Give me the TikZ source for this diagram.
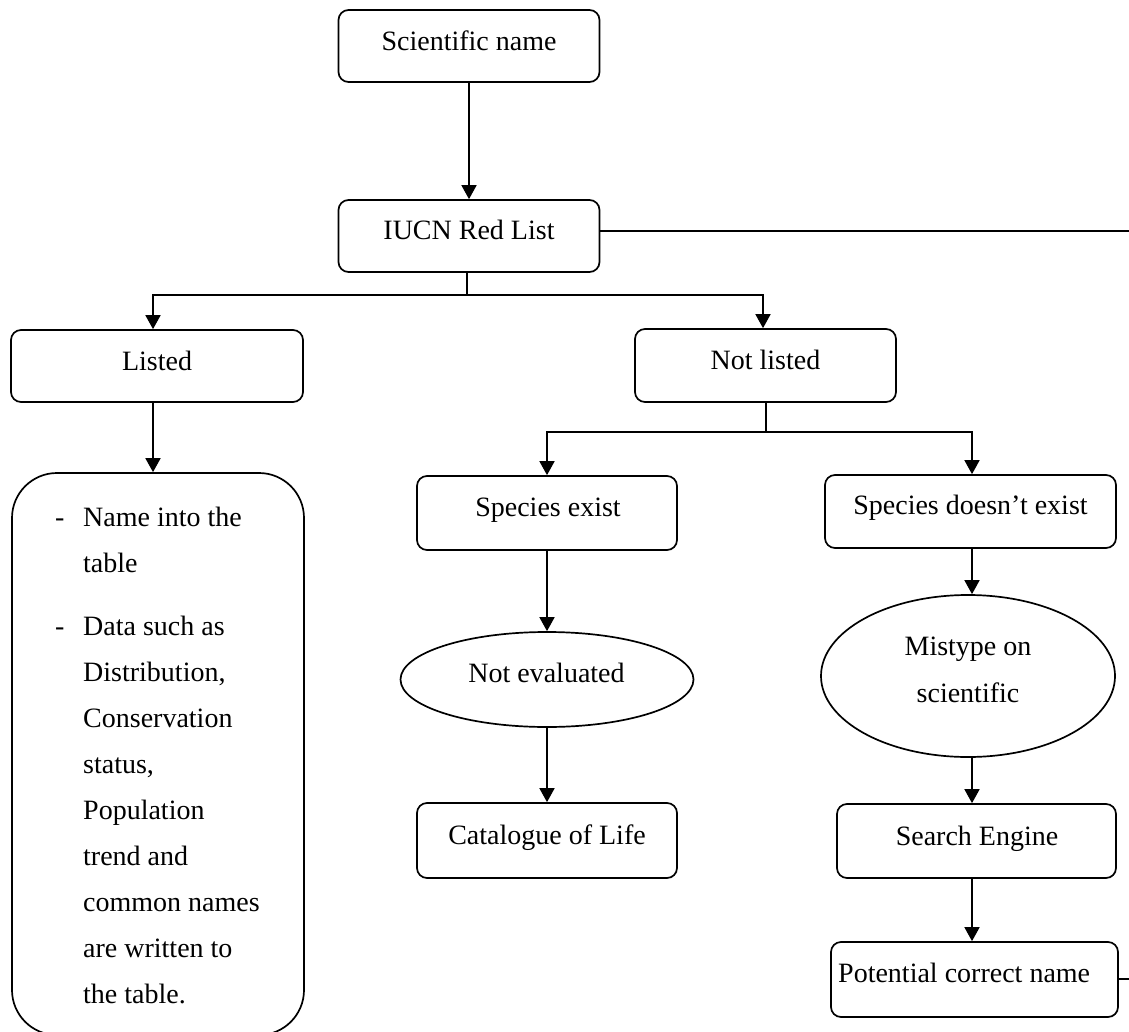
\documentclass[tikz,border=0pt]{standalone}
\usepackage{fontspec}
\setmainfont{Liberation Serif}
\usetikzlibrary{arrows.meta,shapes.geometric}
\begin{document}
\begin{tikzpicture}[x=1pt,y=-1pt,
  box/.style={draw,line width=1.7pt,rounded corners=10pt,inner sep=0pt},
  oval/.style={draw,line width=1.7pt,ellipse,inner sep=0pt},
  txt/.style={anchor=base,inner sep=0pt,font=\fontsize{28}{32}\selectfont},
  conn/.style={line width=1.7pt},
  arr/.style={line width=1.7pt,-{Triangle[width=15pt,length=14pt]}}]
\path[use as bounding box,fill=white] (0,0) rectangle (1129,1032);

% boxes
\node[box,minimum width=261pt,minimum height=72pt] (sci) at (469,46) {};
\node[txt] (sciT) at (469,51) {Scientific name};
\node[box,minimum width=261pt,minimum height=72pt] (iucn) at (469,236) {};
\node[txt] (iucnT) at (469,240) {IUCN Red List};
\node[box,minimum width=292pt,minimum height=72pt] (listed) at (157,366) {};
\node[txt] (listedT) at (157,370) {Listed};
\node[box,minimum width=261pt,minimum height=73pt] (notlisted) at (765.5,365.5) {};
\node[txt] (notlistedT) at (765.5,369) {Not listed};
\node[box,rounded corners=45pt,minimum width=292pt,minimum height=562pt] (listbox) at (158,754) {};
\node[anchor=base west,inner sep=0pt,font=\fontsize{28}{46}\selectfont] (listT) at (55,526)
 {\begin{tabular}[t]{@{}p{28pt}@{}l@{}}
  - & Name into the\\
    & table\\[17pt]
  - & Data such as\\
    & Distribution,\\
    & Conservation\\
    & status,\\
    & Population\\
    & trend and\\
    & common names\\
    & are written to\\
    & the table.
  \end{tabular}};
\node[box,minimum width=260pt,minimum height=74pt] (spexist) at (547,513) {};
\node[txt] (spexistT) at (548,516) {Species exist};
\node[box,minimum width=291pt,minimum height=73pt] (spnot) at (970.5,511.5) {};
\node[txt] (spnotT) at (970.5,514) {Species doesn’t exist};
\node[oval,minimum width=293pt,minimum height=95pt] (noteval) at (547,679.5) {};
\node[txt] (notevalT) at (546.5,682) {Not evaluated};
\node[box,minimum width=260pt,minimum height=75pt] (catalogue) at (547,840.5) {};
\node[txt] (catalogueT) at (547,844) {Catalogue of Life};
\node[oval,minimum width=294pt,minimum height=162pt] (mistype) at (968,676) {};
\node[txt] (mistypeT1) at (968,655) {Mistype on};
\node[txt] (mistypeT2) at (968,702) {scientific};
\node[box,minimum width=279pt,minimum height=74pt] (search) at (976.5,841) {};
\node[txt] (searchT) at (977,845) {Search Engine};
\node[box,minimum width=287pt,minimum height=75pt] (potential) at (974.5,979.5) {};
\node[txt,anchor=base west] (potentialT) at (838,982) {Potential correct name};

% junctions and free ends
\coordinate (j1) at (467,295);
\coordinate (j2) at (766,432);
\coordinate (eR1) at (1129,231);
\coordinate (eR2) at (1129,979);

% connectors
\draw[arr] (sci.south) -- (iucn.north);
\draw[conn] (iucn.east |- eR1) -- (eR1);
\draw[conn] (iucn.south -| j1) -- (j1);
\draw[arr] (j1) -| ([xshift=-4pt]listed.north);
\draw[arr] (j1) -| ([xshift=-2.5pt]notlisted.north);
\draw[arr] ([xshift=-4pt]listed.south) -- ([xshift=-4pt]listed.south |- listbox.north);
\draw[conn] (notlisted.south -| j2) -- (j2);
\draw[arr] (j2) -| (spexist.north);
\draw[arr] (j2) -| ([xshift=1.5pt]spnot.north);
\draw[arr] (spexist.south) -- (spexist.south |- noteval.north);
\draw[arr] (noteval.south) -- (noteval.south |- catalogue.north);
\draw[arr] ([xshift=1.5pt]spnot.south) -- ([xshift=1.5pt]spnot.south |- mistype.north);
\draw[arr] ([xshift=4pt]mistype.south) -- ([xshift=4pt]mistype.south |- search.north);
\draw[arr] ([xshift=-4.5pt]search.south) -- ([xshift=-4.5pt]search.south |- potential.north);
\draw[conn] (potential.east |- eR2) -- (eR2);
\end{tikzpicture}
\end{document}
